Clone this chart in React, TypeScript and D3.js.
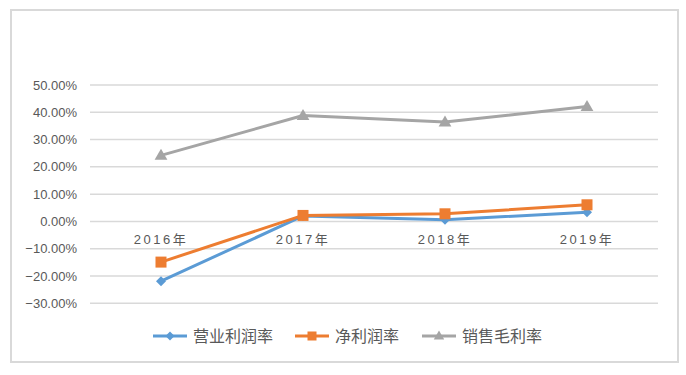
import { useEffect, useRef } from "react";
import * as d3 from "d3";

const years = ["2016年", "2017年", "2018年", "2019年"];
const seriesNames = ["营业利润率", "净利润率", "销售毛利率"];
const operatingMargin = [-0.219, 0.02, 0.006, 0.034];
const netMargin = [-0.149, 0.022, 0.028, 0.061];
const grossMargin = [0.242, 0.388, 0.364, 0.421];
const yTicks = [0.5, 0.4, 0.3, 0.2, 0.1, 0, -0.1, -0.2, -0.3];
const colors = ["#5B9BD5", "#ED7D31", "#A5A5A5"];
const markers = ["diamond", "square", "triangle"];

const App = () => {
  const svgRef = useRef<SVGSVGElement>(null);

  useEffect(() => {
    const width = 686;
    const height = 375;
    const svg = d3.select(svgRef.current);
    svg.selectAll("*").remove();

    const font = "'Liberation Sans', 'Noto Sans CJK SC', sans-serif";

    // outer border
    svg.append("rect")
      .attr("x", 11).attr("y", 10)
      .attr("width", 667).attr("height", 352)
      .attr("fill", "#fff")
      .attr("stroke", "#d9d9d9")
      .attr("stroke-width", 2);

    const x = d3.scaleBand().domain(years).range([90, 658]);
    const y = d3.scaleLinear().domain([-0.3, 0.5]).range([303.3, 85]);

    // gridlines
    svg.append("g")
      .selectAll("line")
      .data(yTicks)
      .enter()
      .append("line")
      .attr("x1", 90).attr("x2", 658)
      .attr("y1", (d) => y(d)).attr("y2", (d) => y(d))
      .attr("stroke", "#d9d9d9")
      .attr("stroke-width", 1.5);

    // y labels
    svg.append("g")
      .selectAll("text")
      .data(yTicks)
      .enter()
      .append("text")
      .attr("x", 77)
      .attr("y", (d) => y(d))
      .attr("dy", "0.35em")
      .attr("text-anchor", "end")
      .attr("font-family", font)
      .attr("font-size", 13)
      .attr("fill", "#595959")
      .text((d) => d3.format(".2%")(d));

    // category labels just below zero line
    svg.append("g")
      .selectAll("text")
      .data(years)
      .enter()
      .append("text")
      .attr("x", (d) => x(d)! + x.bandwidth() / 2)
      .attr("y", y(0) + 18)
      .attr("dy", "0.35em")
      .attr("text-anchor", "middle")
      .attr("font-family", font)
      .attr("font-size", 13)
      .attr("letter-spacing", 2.5)
      .attr("fill", "#595959")
      .text((d) => d);

    const cx = (i: number) => x(years[i])! + x.bandwidth() / 2;

    const drawMarker = (g: any, kind: string, px: number, py: number, color: string, s: number) => {
      if (kind === "square") {
        g.append("rect")
          .attr("x", px - s / 2).attr("y", py - s / 2)
          .attr("width", s).attr("height", s)
          .attr("fill", color);
      } else if (kind === "diamond") {
        g.append("path")
          .attr("d", `M${px},${py - s / 2}L${px + s / 2},${py}L${px},${py + s / 2}L${px - s / 2},${py}Z`)
          .attr("fill", color);
      } else {
        g.append("path")
          .attr("d", `M${px},${py - s * 0.6}L${px + s * 0.58},${py + s * 0.4}L${px - s * 0.58},${py + s * 0.4}Z`)
          .attr("fill", color);
      }
    };

    const allSeries = [operatingMargin, netMargin, grossMargin];
    const line = d3.line<number>().x((d, i) => cx(i)).y((d) => y(d));

    allSeries.forEach((vals, si) => {
      const g = svg.append("g");
      g.append("path")
        .attr("d", line(vals))
        .attr("fill", "none")
        .attr("stroke", colors[si])
        .attr("stroke-width", 3)
        .attr("stroke-linejoin", "round");
      vals.forEach((v, i) => {
        drawMarker(g, markers[si], cx(i), y(v), colors[si], markers[si] === "diamond" ? 10 : 11);
      });
    });

    // legend
    const legendX = [153, 295, 422];
    const legendY = 336;
    seriesNames.forEach((name, si) => {
      const g = svg.append("g");
      g.append("line")
        .attr("x1", legendX[si]).attr("x2", legendX[si] + 34)
        .attr("y1", legendY).attr("y2", legendY)
        .attr("stroke", colors[si])
        .attr("stroke-width", 3);
      drawMarker(g, markers[si], legendX[si] + 17, legendY, colors[si], markers[si] === "diamond" ? 9 : 9);
      g.append("text")
        .attr("x", legendX[si] + 40)
        .attr("y", legendY)
        .attr("dy", "0.35em")
        .attr("font-family", font)
        .attr("font-size", 16)
        .attr("fill", "#595959")
        .text(name);
    });
  }, []);

  return (
    <svg
      ref={svgRef}
      width={686}
      height={375}
      style={{ position: "absolute", left: 0, top: 0 }}
    ></svg>
  );
};

export default App;
